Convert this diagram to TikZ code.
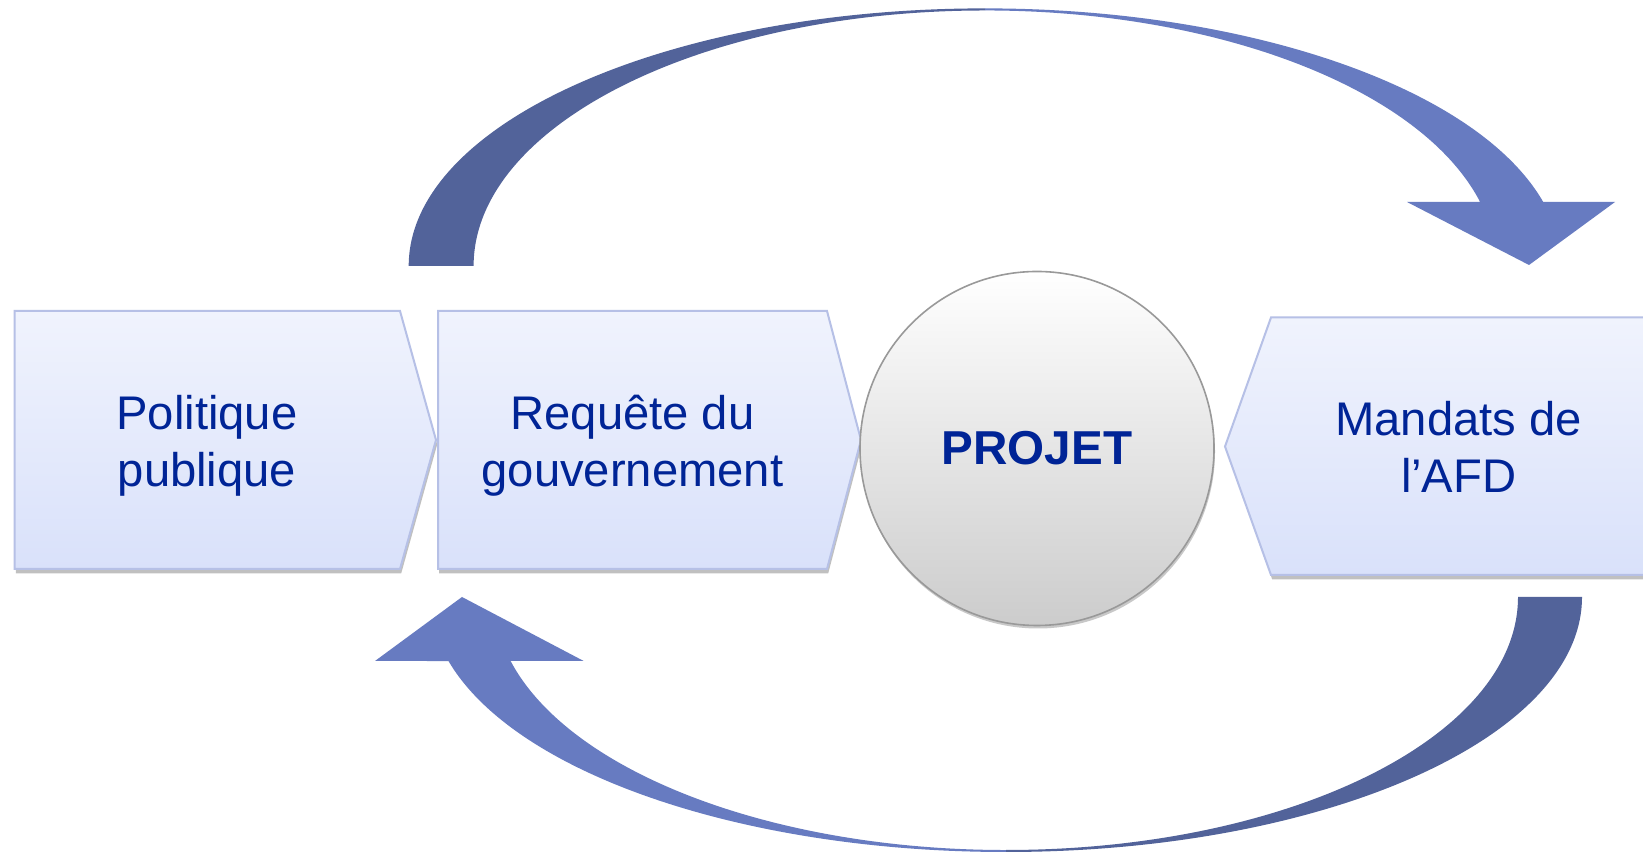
\documentclass[tikz,border=0pt]{standalone}
\usepackage{fontspec}
\setmainfont{Liberation Sans}
\usetikzlibrary{shadows}
\definecolor{txtblue}{RGB}{0,36,150}
\definecolor{arrdark}{RGB}{82,99,154}
\definecolor{arrlight}{RGB}{103,123,193}
\definecolor{boxtop}{RGB}{240,243,253}
\definecolor{boxbot}{RGB}{217,225,250}
\definecolor{boxline}{RGB}{182,192,230}
\tikzset{
  boxshape/.style={top color=boxtop, bottom color=boxbot, draw=boxline, line width=1pt,
    drop shadow={shadow xshift=0.6pt, shadow yshift=-2.2pt, opacity=0.35, fill=black!70}},
  boxtext/.style={text=txtblue, align=center, font=\fontsize{23.6}{28.3}\selectfont, inner sep=0pt},
  darkpart/.style={fill=arrdark, draw=none},
  lightpart/.style={fill=arrlight, draw=none}
}
\begin{document}
\begin{tikzpicture}[x=0.5pt, y=0.5pt]
\clip (0,0) rectangle (1643,855);
\fill[white] (0,0) rectangle (1643,855);

% top arrow
\path[darkpart] (408.7,589) arc[start angle=180, end angle=90, x radius=576.3, y radius=257.6]
  -- (985,844.5) arc[start angle=90, end angle=180, x radius=511.4, y radius=255.5] -- cycle;
\path[lightpart] (985,846.6) arc[start angle=90, end angle=14.39, x radius=576.3, y radius=257.6]
  -- (1615,653) -- (1529,590) -- (1407,653) -- (1480.1,653)
  arc[start angle=14.5, end angle=90, x radius=511.4, y radius=255.5] -- cycle;

% bottom arrow
\path[darkpart] (1582,258) arc[start angle=0, end angle=-90, x radius=576, y radius=255]
  -- (1006,5) arc[start angle=-90, end angle=0, x radius=512, y radius=253] -- cycle;
\path[lightpart] (1006,3) arc[start angle=270, end angle=194.54, x radius=576, y radius=255]
  -- (375,194) -- (462,258) -- (583.7,194) -- (510.6,194)
  arc[start angle=194.65, end angle=270, x radius=512, y radius=253] -- cycle;

% boxes
\path[boxshape] (14.7,286) -- (14.7,544) -- (400,544) -- (436,415) -- (400,286) -- cycle;
\path[boxshape] (438,286) -- (438,544) -- (827,544) -- (861,415) -- (827,286) -- cycle;
\path[boxshape] (1700,280) -- (1271,280) -- (1225,408.5) -- (1271,537.5) -- (1700,537.5);

% circle
\node[circle, minimum size=354pt*0.5, inner sep=0pt, top color=white, bottom color=black!20,
  draw=black!40, line width=0.8pt,
  drop shadow={shadow xshift=0.5pt, shadow yshift=-1.5pt, opacity=0.3, fill=black!70}]
  (projet) at (1037,406.5) {};
\node[text=txtblue, font=\fontsize{23.8}{28}\selectfont\bfseries, inner sep=0pt] (projtxt) at (projet.center) {PROJET};

% texts
\node[boxtext] (politique) at (207,409) {Politique\\publique};
\node[boxtext] (requete) at (632.5,409) {Requête du\\gouvernement};
\node[boxtext] (mandats) at (1458.7,408) {Mandats de\\l’AFD};
\end{tikzpicture}
\end{document}
